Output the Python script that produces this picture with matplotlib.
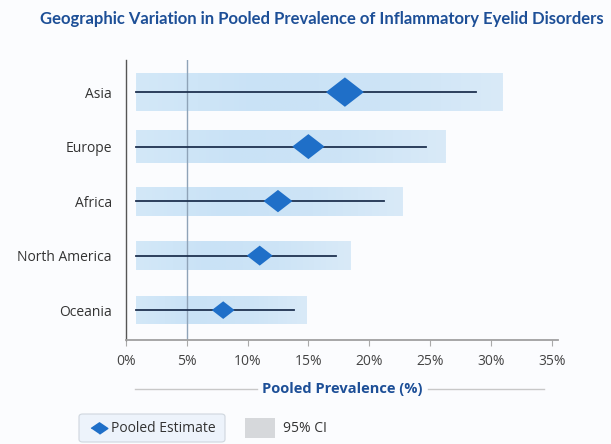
import matplotlib
matplotlib.use("Agg")
import matplotlib.pyplot as plt
from matplotlib.patches import Polygon, FancyBboxPatch, Rectangle
from matplotlib.lines import Line2D
import numpy as np

plt.rcParams["font.family"] = ["Open Sans", "DejaVu Sans"]

regions = ["Asia", "Europe", "Africa", "North America", "Oceania"]
estimate = [18.0, 15.0, 12.5, 11.0, 8.0]
ci_low = [0.8, 0.8, 0.8, 0.8, 0.8]
ci_high = [28.8, 24.7, 21.2, 17.3, 13.8]
band_high = [30.9, 26.2, 22.7, 18.4, 14.8]
weight = [1.0, 0.85, 0.76, 0.68, 0.6]
xticks = [0, 5, 10, 15, 20, 25, 30, 35]

title_blue = "#1d4f97"
diamond_blue = "#1f6fc8"

fig = plt.figure(figsize=(6.11, 4.44), dpi=100, facecolor="#fbfcfe")
ax = fig.add_axes([0.206, 0.234, 0.707, 0.631])
ax.set_facecolor("#fbfcfe")

ypos = np.arange(len(regions))[::-1]
band_h = [0.68, 0.6, 0.53, 0.53, 0.5]

# soft gradient for the bands
grad = np.linspace(0, 1, 200)
cmap = matplotlib.colors.LinearSegmentedColormap.from_list(
    "band", ["#d3e8f8", "#c9e2f6", "#cde4f6", "#d9eaf8"])

for i, y in enumerate(ypos):
    h = band_h[i]
    ax.imshow(grad[np.newaxis, :], cmap=cmap, aspect="auto",
              extent=[ci_low[i], band_high[i], y - h / 2, y + h / 2], zorder=1)
    ax.plot([ci_low[i], ci_high[i]], [y, y], color="#1f3250", lw=1.3, zorder=3)
    hw = 1.56 * weight[i]
    hh = 0.27 * weight[i]
    e = estimate[i]
    ax.add_patch(Polygon([[e - hw, y], [e, y + hh], [e + hw, y], [e, y - hh]],
                         closed=True, facecolor=diamond_blue, edgecolor="none", zorder=4))

ax.axvline(5, color="#8fa3b8", lw=1.0, zorder=2)

ax.set_xlim(0, 35.5)
ax.set_ylim(-0.55, 4.59)
ax.set_xticks(xticks)
ax.set_xticklabels([f"{t}%" for t in xticks], fontsize=10, color="#444444")
ax.set_yticks(ypos)
ax.set_yticklabels(regions, fontsize=10, color="#333333")
ax.tick_params(axis="y", length=0, pad=10)
ax.tick_params(axis="x", length=4, color="#aaaaaa", pad=6)
for s in ["top", "right"]:
    ax.spines[s].set_visible(False)
ax.spines["left"].set_color("#555555")
ax.spines["left"].set_linewidth(1.0)
ax.spines["bottom"].set_color("#a0a0a0")
ax.spines["bottom"].set_linewidth(1.3)

fig.text(0.526, 0.957, "Geographic Variation in Pooled Prevalence of Inflammatory Eyelid Disorders",
         ha="center", va="center", fontsize=12, fontweight="bold", color=title_blue,
         family=["Lato", "DejaVu Sans"])

# x-axis label with flanking rules
fig.text(0.56, 0.124, "Pooled Prevalence (%)", ha="center", va="center",
         fontsize=10.5, fontweight="bold", color=title_blue)
fig.add_artist(Line2D([135 / 611, 257 / 611], [0.124, 0.124], color="#c8c8c8", lw=1.0))
fig.add_artist(Line2D([428 / 611, 544 / 611], [0.124, 0.124], color="#c8c8c8", lw=1.0))

# legend
fig.add_artist(FancyBboxPatch((79 / 611, 2 / 444), 146 / 611, 28 / 444,
                              boxstyle="round,pad=0,rounding_size=0.006",
                              facecolor="#edf3fb", edgecolor="#cfd6de", lw=0.8))
fig.add_artist(Line2D([98.5 / 611], [1 - 428 / 444],
                      marker=[(-1, 0), (0, 0.68), (1, 0), (0, -0.68)], markersize=12,
                      color=diamond_blue, linestyle="none"))
fig.text(111 / 611, 1 - 428 / 444, "Pooled Estimate", ha="left", va="center",
         fontsize=10, color="#333333")
fig.add_artist(Rectangle((245 / 611, 1 - 438 / 444), 30 / 611, 20 / 444,
                         facecolor="#d6d8db", edgecolor="none"))
fig.text(283 / 611, 1 - 428 / 444, "95% CI", ha="left", va="center",
         fontsize=10, color="#333333")

fig.savefig("out.png", dpi=100, facecolor=fig.get_facecolor())
